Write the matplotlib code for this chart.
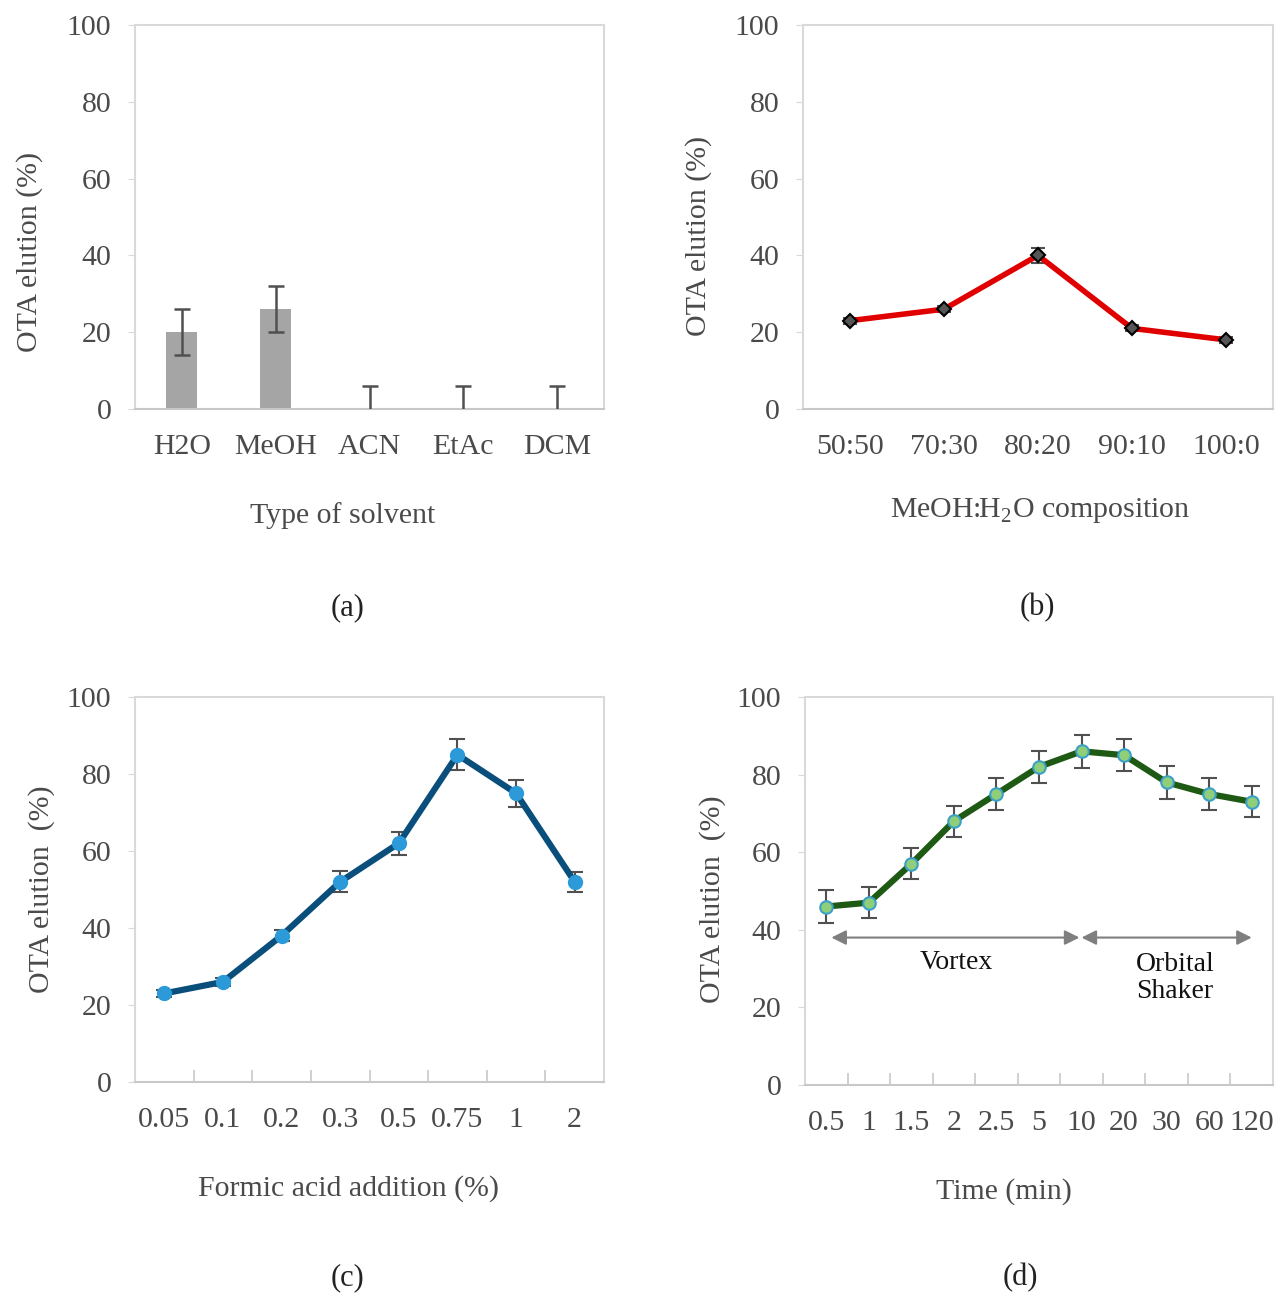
import matplotlib
matplotlib.use("Agg")
import matplotlib.pyplot as plt
import numpy as np

plt.rcParams['font.family'] = ['Liberation Serif', 'DejaVu Serif']

# Panel (a)
solvents = ["H2O", "MeOH", "ACN", "EtAc", "DCM"]
solvent_vals = [20, 26, 0, 0, 0]
solvent_err = [6, 6, 6, 6, 6]

# Panel (b)
compositions = ["50:50", "70:30", "80:20", "90:10", "100:0"]
comp_vals = [23, 26, 40, 21, 18]
comp_err = [0.8, 0.8, 2, 0.8, 0.8]

# Panel (c)
formic = ["0.05", "0.1", "0.2", "0.3", "0.5", "0.75", "1", "2"]
formic_vals = [23, 26, 38, 52, 62, 85, 75, 52]
formic_err = [0.8, 1, 1.5, 2.7, 3, 4, 3.5, 2.6]

# Panel (d)
times = ["0.5", "1", "1.5", "2", "2.5", "5", "10", "20", "30", "60", "120"]
time_vals = [46, 47, 57, 68, 75, 82, 86, 85, 78, 75, 73]
time_err = [4.2, 4, 4, 4, 4, 4.2, 4.2, 4.2, 4.2, 4, 4]

TXT = '#4a4a4a'
SP = '#d9d9d9'
FS = 21.5

fig = plt.figure(figsize=(12.84, 12.97), dpi=100)
W, H = 1284, 1297

def make_ax(l, t, r, b):
    return fig.add_axes([l / W, 1 - b / H, (r - l) / W, (b - t) / H])

def style(ax, n, xlabels, xlabel, ylabel, ylab_x, ylab_y, xlab_x, inside_ticks=False, xpad=30):
    ax.set_xlim(-0.5, n - 0.5)
    ax.set_ylim(0, 100)
    ax.set_yticks([0, 20, 40, 60, 80, 100])
    for s in ax.spines.values():
        s.set_color(SP)
        s.set_linewidth(1.5)
    ax.spines['bottom'].set_color('#c8c8c8')
    ax.set_xticks(range(n))
    ax.set_xticklabels(xlabels)
    ax.tick_params(axis='x', length=0, pad=18, labelsize=FS, labelcolor=TXT)
    ax.tick_params(axis='y', length=5, color=SP, pad=12, labelsize=FS, labelcolor=TXT)
    if inside_ticks:
        ax.set_xticks(np.arange(-0.5, n, 1.0), minor=True)
        ax.tick_params(axis='x', which='minor', direction='in', length=9, color='#c8c8c8', width=1.2)
    ax.set_xlabel(xlabel, fontsize=FS, color=TXT, labelpad=xpad)
    ax.xaxis.label.set_x(xlab_x)
    ax.set_ylabel(ylabel, fontsize=FS, color=TXT)
    ax.yaxis.set_label_coords(ylab_x, ylab_y)

# (a)
axa = make_ax(135, 25, 604, 409)
x = np.arange(len(solvents))
axa.bar(x, solvent_vals, width=0.33, color='#a5a5a5', zorder=2)
axa.errorbar(x, solvent_vals, yerr=solvent_err, fmt='none', ecolor='#505050',
             elinewidth=1.8, capsize=6, capthick=1.8, zorder=3, clip_on=True)
style(axa, len(solvents), solvents, 'Type of solvent', 'OTA elution (%)',
      ylab_x=-0.197, ylab_y=0.41, xlab_x=0.443)
fig.text(348 / W, 1 - 608 / H, '(a)', ha='center', va='center', fontsize=22, color='#222222')

# (b)
axb = make_ax(803, 25, 1273, 409)
x = np.arange(len(compositions))
axb.errorbar(x, comp_vals, yerr=comp_err, fmt='none', ecolor='#505050',
             elinewidth=1.5, capsize=5, capthick=1.5, zorder=2)
axb.plot(x, comp_vals, color='#e00000', lw=4, marker='D', ms=7,
         mfc='#555555', mec='black', mew=1.5, zorder=3)
style(axb, len(compositions), compositions, 'MeOH:H$_\\mathregular{2}$O composition',
      'OTA elution (%)', ylab_x=-0.193, ylab_y=0.45, xlab_x=0.505, xpad=26)
fig.text(1037 / W, 1 - 608 / H, '(b)', ha='center', va='center', fontsize=22, color='#222222')

# (c)
axc = make_ax(135, 697, 604, 1082)
x = np.arange(len(formic))
axc.errorbar(x, formic_vals, yerr=formic_err, fmt='none', ecolor='#505050',
             elinewidth=1.5, capsize=6, capthick=1.5, zorder=2)
axc.plot(x, formic_vals, color='#0a4f7c', lw=4.5, marker='o', ms=10,
         mfc='#2c9ad8', mec='#2c9ad8', zorder=3)
style(axc, len(formic), formic, 'Formic acid addition (%)', 'OTA elution  (%)',
      ylab_x=-0.17, ylab_y=0.5, xlab_x=0.456, inside_ticks=True)
fig.text(348 / W, 1 - 1278 / H, '(c)', ha='center', va='center', fontsize=22, color='#222222')

# (d)
axd = make_ax(805, 697, 1273, 1085)
x = np.arange(len(times))
axd.errorbar(x, time_vals, yerr=time_err, fmt='none', ecolor='#505050',
             elinewidth=1.5, capsize=6, capthick=1.5, zorder=2)
axd.plot(x, time_vals, color='#1e5a14', lw=4.5, marker='o', ms=9,
         mfc='#8fcf7a', mec='#3aa0c8', mew=1.5, zorder=3)
style(axd, len(times), times, 'Time (min)', 'OTA elution  (%)',
      ylab_x=-0.169, ylab_y=0.48, xlab_x=0.425, inside_ticks=True)
arrow_kw = dict(arrowstyle='<|-|>', color='#7f7f7f', lw=1.5, mutation_scale=22,
                shrinkA=0, shrinkB=0)
axd.annotate('', xy=(0.12, 38), xytext=(5.95, 38), arrowprops=arrow_kw)
axd.annotate('', xy=(6.0, 38), xytext=(10.0, 38), arrowprops=arrow_kw)
axd.text(3.05, 31.5, 'Vortex', ha='center', va='center', fontsize=20, color='#111111')
axd.text(7.28, 27.5, 'Orbital\nShaker', ha='left', va='center', fontsize=20,
         color='#111111', linespacing=1.1)
fig.text(1020 / W, 1 - 1278 / H, '(d)', ha='center', va='center', fontsize=22, color='#222222')

fig.savefig('out.png', dpi=100, facecolor='white')
